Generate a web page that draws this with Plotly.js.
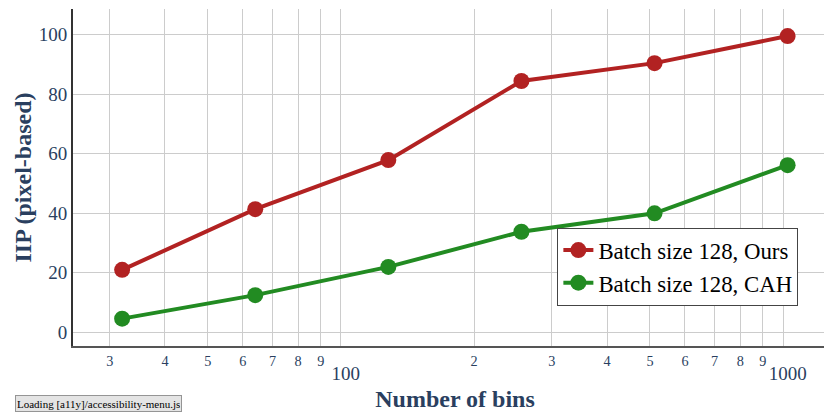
<!DOCTYPE html>
<html>
<head>
<meta charset="utf-8">
<script src="https://cdn.plot.ly/plotly-3.0.1.min.js"></script>
<style>html,body{margin:0;padding:0;overflow:hidden;background:#fff}</style>
</head>
<body>
<div id="chart"></div>
<script>
const bins = [32, 64, 128, 256, 512, 1024];
const oursIIP = [20.9, 41.3, 57.8, 84.4, 90.4, 99.5];
const cahIIP = [4.5, 12.4, 21.9, 33.7, 39.9, 56.1];
const seriesNames = ["Batch size 128, Ours", "Batch size 128, CAH"];

const font = "Liberation Serif";
const traces = [
  {x: bins, y: oursIIP, name: seriesNames[0], mode: "lines+markers",
   line: {color: "#b22222", width: 4}, marker: {color: "#b22222", size: 16}},
  {x: bins, y: cahIIP, name: seriesNames[1], mode: "lines+markers",
   line: {color: "#228b22", width: 4}, marker: {color: "#228b22", size: 16}}
];
const layout = {
  width: 840, height: 412,
  margin: {l: 73, r: 3, t: 9, b: 66},
  paper_bgcolor: "#fff", plot_bgcolor: "#fff",
  font: {family: font, color: "#2a3f5f", size: 19},
  showlegend: true,
  legend: {x: 0.634, y: 0.351, xanchor: "left", yanchor: "top",
           bgcolor: "#fff", bordercolor: "#444", borderwidth: 1,
           font: {family: font, size: 22.8, color: "#000"}},
  xaxis: {type: "log", range: [1.394, 3.122], dtick: "D1",
          showgrid: true, gridcolor: "#cccccc", gridwidth: 1,
          showline: true, linecolor: "#555", linewidth: 2, zeroline: false,
          ticks: "", tickfont: {family: font, size: 19, color: "#2a3f5f"},
          title: {text: "<b>Number of bins</b>", font: {family: font, size: 24, color: "#2a3f5f"}}},
  yaxis: {range: [-4.7, 108.6], dtick: 20, automargin: true,
          showgrid: true, gridcolor: "#cccccc", gridwidth: 1,
          showline: true, linecolor: "#333", linewidth: 2, zeroline: false,
          ticks: "", tickfont: {family: font, size: 19, color: "#2a3f5f"},
          title: {text: "<b>IIP (pixel-based)</b>", standoff: 0, font: {family: font, size: 24, color: "#2a3f5f"}}},
  annotations: [{
    text: "Loading [a11y]/accessibility-menu.js", xref: "paper", yref: "paper",
    x: -0.0759, y: -0.1454, xanchor: "left", yanchor: "top", showarrow: false,
    height: 13, borderpad: 1,
    bgcolor: "#e4e4e4", bordercolor: "#959595", borderwidth: 1,
    font: {family: font, size: 11, color: "#000"}
  }]
};
Plotly.newPlot("chart", traces, layout, {displayModeBar: false, staticPlot: true});
</script>
</body>
</html>
